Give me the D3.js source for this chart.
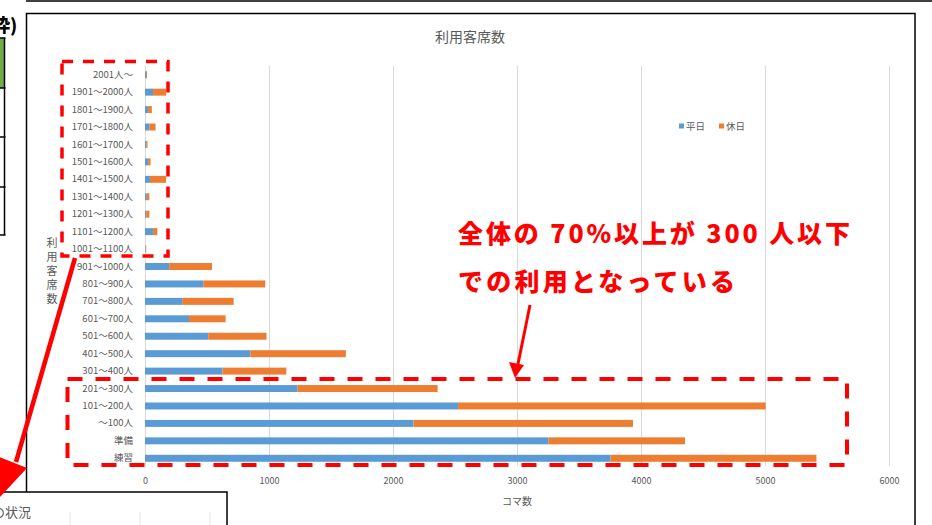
<!DOCTYPE html>
<html>
<head>
<meta charset="utf-8">
<script src="https://cdn.jsdelivr.net/npm/d3@7"></script>
<style>
	body { margin: 0; background: #fff; }
	svg { display: block; }
	text { font-family: "Noto Sans CJK JP", "Noto Sans", sans-serif; }
</style>
</head>
<body>
<div id="chart"></div>
<script>
// categories, top to bottom as they appear in the chart
var categories = ["2001人～", "1901～2000人", "1801～1900人", "1701～1800人", "1601～1700人",
	"1501～1600人", "1401～1500人", "1301～1400人", "1201～1300人", "1101～1200人",
	"1001～1100人", "901～1000人", "801～900人", "701～800人", "601～700人", "501～600人",
	"401～500人", "301～400人", "201～300人", "101～200人", "～100人", "準備", "練習"];
var weekday = [8, 65, 25, 35, 10, 25, 40, 15, 10, 65, 5, 195, 470, 300, 355, 510, 850, 625, 1230, 2525, 2165, 3255, 3755];
var holiday = [8, 105, 30, 50, 10, 20, 130, 20, 25, 35, 5, 345, 500, 415, 295, 470, 770, 515, 1130, 2480, 1770, 1100, 1660];
var seriesNames = ["平日", "休日"];
var seriesColors = ["#5b9bd5", "#ed7d31"];
var xTicks = [0, 1000, 2000, 3000, 4000, 5000, 6000];
var chartTitle = "利用客席数";
var yTitle = "利用客席数";
var xTitle = "コマ数";
var noteLine1 = "全体の 70%以上が 300 人以下";
var noteLine2 = "での利用となっている";

var W = 932, H = 525;
var svg = d3.select("#chart").append("svg")
	.attr("width", W)
	.attr("height", H);

//---- bits of the surrounding document ----
svg.append("line").attr("x1", 26).attr("x2", W).attr("y1", 1).attr("y2", 1)
	.attr("stroke", "#000").attr("stroke-width", 1.5);
svg.append("text")
	.attr("x", -8).attr("y", 32)
	.attr("font-size", "18px").attr("font-weight", 900).attr("fill", "#000")
	.text("枠)");
svg.append("rect").attr("x", 0).attr("y", 38).attr("width", 4.5).attr("height", 50).attr("fill", "#70ad47");
[38, 88, 137, 187, 235].forEach(function(y) {
	svg.append("line").attr("x1", 0).attr("x2", 5.5).attr("y1", y).attr("y2", y)
		.attr("stroke", "#000").attr("stroke-width", 1.5);
});
svg.append("line").attr("x1", 4.5).attr("x2", 4.5).attr("y1", 38).attr("y2", 235)
	.attr("stroke", "#000").attr("stroke-width", 1.5);

// chart frame
svg.append("rect")
	.attr("x", 26.5).attr("y", 13.5)
	.attr("width", 915 - 26.5).attr("height", H)
	.attr("fill", "#fff").attr("stroke", "#000").attr("stroke-width", 1.5);

//---- the chart ----
var x = d3.scaleLinear().domain([0, 6000]).range([145, 889]);
var y = d3.scaleBand().domain(categories).range([66, 467]).paddingInner(0.6).paddingOuter(0.3);

var g = svg.append("g");

// vertical gridlines
g.append("g")
	.attr("class", "grid")
	.attr("transform", "translate(0,466)")
	.call(d3.axisBottom(x).tickValues(xTicks).tickSize(-400).tickFormat(""))
	.call(function(s) {
		s.select(".domain").remove();
		s.selectAll("line").attr("stroke", "#d9d9d9").attr("stroke-width", 1);
	});

// x axis labels
g.append("g")
	.attr("transform", "translate(0,466)")
	.call(d3.axisBottom(x).tickValues(xTicks).tickSize(0).tickPadding(12).tickFormat(d3.format("d")))
	.call(function(s) {
		s.select(".domain").remove();
		s.selectAll("text")
			.attr("fill", "#595959")
			.style("font-size", "9px")
			.style("font-family", "\"Noto Sans CJK JP\", sans-serif");
	});

// category axis
g.append("g")
	.attr("transform", "translate(145,0)")
	.call(d3.axisLeft(y).tickSize(0).tickPadding(12))
	.call(function(s) {
		s.select(".domain").attr("stroke", "#d9d9d9");
		s.selectAll("text")
			.attr("fill", "#595959")
			.style("font-size", "9.5px")
			.style("font-family", "\"Noto Sans CJK JP\", sans-serif");
	});

var rows = categories.map(function(c, i) {
	return { name: c, "平日": weekday[i], "休日": holiday[i] };
});
var stacked = d3.stack().keys(seriesNames)(rows);

g.selectAll(".series")
	.data(stacked)
  .enter().append("g")
	.attr("class", "series")
	.attr("fill", function(d, i) { return seriesColors[i]; })
  .selectAll("rect")
	.data(function(d) { return d; })
  .enter().append("rect")
	.attr("x", function(d) { return x(d[0]); })
	.attr("y", function(d) { return y(d.data.name); })
	.attr("width", function(d) { return x(d[1]) - x(d[0]); })
	.attr("height", y.bandwidth());

// title
svg.append("text")
	.attr("x", 470).attr("y", 42)
	.attr("text-anchor", "middle")
	.attr("font-size", "14px").attr("fill", "#595959")
	.text(chartTitle);

// y title, stacked upright characters
yTitle.split("").forEach(function(ch, i) {
	svg.append("text")
		.attr("x", 52).attr("y", 247 + i * 14)
		.attr("text-anchor", "middle")
		.attr("font-size", "11px").attr("fill", "#595959")
		.text(ch);
});

// x title
svg.append("text")
	.attr("x", 517).attr("y", 505)
	.attr("text-anchor", "middle")
	.attr("font-size", "10px").attr("fill", "#595959")
	.text(xTitle);

// legend
var legend = svg.append("g").attr("transform", "translate(679,126)");
seriesNames.forEach(function(name, i) {
	var lg = legend.append("g").attr("transform", "translate(" + (i * 40) + ",0)");
	lg.append("rect").attr("x", 0).attr("y", -2.5).attr("width", 5).attr("height", 5).attr("fill", seriesColors[i]);
	lg.append("text").attr("x", 7).attr("y", 3.5).attr("font-size", "9.5px").attr("fill", "#595959").text(name);
});

//---- red annotations ----
var red = "#ff0000";
svg.append("rect")
	.attr("x", 62).attr("y", 61.5).attr("width", 168 - 62).attr("height", 256 - 61.5)
	.attr("fill", "none").attr("stroke", red).attr("stroke-width", 3.5)
	.attr("stroke-dasharray", "11,10");
svg.append("rect")
	.attr("x", 67.5).attr("y", 379).attr("width", 847 - 67.5).attr("height", 465 - 379)
	.attr("fill", "none").attr("stroke", red).attr("stroke-width", 4)
	.attr("stroke-dasharray", "15,13");

svg.append("text")
	.attr("x", 458).attr("y", 243)
	.attr("font-size", "25px").attr("font-weight", 900).attr("fill", red)
	.attr("textLength", 392).attr("lengthAdjust", "spacing")
	.text(noteLine1);
svg.append("text")
	.attr("x", 458).attr("y", 291)
	.attr("font-size", "25px").attr("font-weight", 900).attr("fill", red)
	.attr("textLength", 277).attr("lengthAdjust", "spacing")
	.text(noteLine2);

// small arrow pointing at the box
svg.append("line")
	.attr("x1", 530).attr("y1", 305).attr("x2", 518).attr("y2", 364)
	.attr("stroke", red).attr("stroke-width", 3);
svg.append("path")
	.attr("d", "M515,378 L509,362 L524,365 Z")
	.attr("fill", red);

// long arrow to the lower-left box
svg.append("line")
	.attr("x1", 75).attr("y1", 258).attr("x2", 16).attr("y2", 462)
	.attr("stroke", red).attr("stroke-width", 4.5);

// lower-left overlapping box
svg.append("rect")
	.attr("x", -2).attr("y", 492).attr("width", 229).attr("height", 60)
	.attr("fill", "#fff").attr("stroke", "#000").attr("stroke-width", 1.5);
svg.append("text")
	.attr("x", -8).attr("y", 517)
	.attr("font-size", "13px").attr("fill", "#595959")
	.text("の状況");
[70, 140, 210].forEach(function(gx) {
	svg.append("line").attr("x1", gx).attr("x2", gx).attr("y1", 512).attr("y2", H)
		.attr("stroke", "#e3e3e3").attr("stroke-width", 1);
});
// arrow head sits on top of the box edge
svg.append("path")
	.attr("d", "M0,497 L-6,455 L27,468 Z")
	.attr("fill", red);
</script>
</body>
</html>
